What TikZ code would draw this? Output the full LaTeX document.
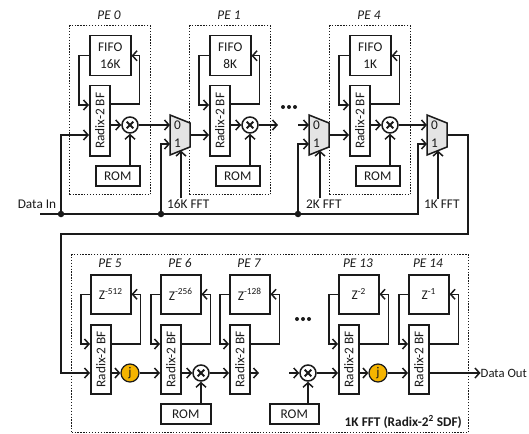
\documentclass[tikz,border=0pt]{standalone}
\usepackage{fontspec}
\setmainfont{Carlito}
\usetikzlibrary{arrows.meta,calc}
\definecolor{jorange}{HTML}{F5B400}
\definecolor{muxgray}{HTML}{E4E4E4}
\definecolor{ink}{HTML}{1A1A1A}

\tikzset{
  every node/.style={font=\fontsize{13.3}{16.5}\selectfont, inner sep=1pt, text=ink},
  blk/.style={draw=ink, line width=1.5pt, inner sep=0pt, anchor=north west},
  pebox/.style={draw=ink, line width=1.2pt, dash pattern=on 1.3pt off 1.6pt, anchor=north west, inner sep=0pt},
  pelab/.style={font=\fontsize{13.3}{16}\selectfont\itshape},
  mulc/.style={draw=ink, circle, line width=1.5pt, fill=white, minimum size=16pt, inner sep=0pt,
    path picture={\draw[line width=1.9pt, ink]
      ([shift={(-3.3pt,-3.3pt)}]path picture bounding box.center) -- ([shift={(3.3pt,3.3pt)}]path picture bounding box.center)
      ([shift={(-3.3pt,3.3pt)}]path picture bounding box.center) -- ([shift={(3.3pt,-3.3pt)}]path picture bounding box.center);}},
  jc/.style={draw=ink, circle, line width=1.2pt, fill=jorange, minimum size=18pt, inner sep=0pt},
  wire/.style={draw=ink, line width=1.5pt},
  arr/.style={wire, -{Straight Barb[length=4.5pt,width=10pt]}},
  dotc/.style={circle, fill=ink, inner sep=0pt, minimum size=6.5pt},
  muxshape/.style={draw=ink, line width=1.5pt, fill=muxgray},
}

\newcommand\upperPE[4]{%
  \node[pebox,minimum width=81pt,minimum height=169pt] (#1box) at (#2-20,25) {};
  \node[pelab] (#1lab) at (#2+20,15) {#4};
  \node[blk,minimum width=41pt,minimum height=40pt,align=center] (#1fifo) at (#2,35) {FIFO\\#3};
  \node[blk,minimum width=20pt,minimum height=70pt,label={[rotate=90]center:Radix-2 BF}] (#1bf) at (#2,85) {};
  \node[mulc] (#1mul) at (#2+41,125) {};
  \node[blk,minimum width=44pt,minimum height=20pt] (#1rom) at (#2+6,165) {ROM};
  \coordinate (#1in) at ([yshift=-50pt]#1bf.north west);
  \draw[arr] (#1fifo.west) -- ++(-10,0) |- ([yshift=-20pt]#1bf.north west);
  \draw[arr] ([yshift=-19pt]#1bf.north east) -- ++(29,0) |- (#1fifo.east);
  \draw[arr] (#1bf.east |- #1mul) -- (#1mul.west);
  \draw[arr] (#1mul |- #1rom.north) -- (#1mul.south);
}

\newcommand\muxat[3]{%
  \draw[muxshape] (#2,115) -- (#2+20,123) -- (#2+20,147) -- (#2,155) -- cycle;
  \coordinate (#1in0) at (#2,125);
  \coordinate (#1in1) at (#2,144);
  \coordinate (#1out) at (#2+20,135);
  \coordinate (#1sel) at (#2+11,150.6);
  \node (#1zero) at (#2+7.5,125) {0};
  \node (#1one) at (#2+7.5,143) {1};
  \node[anchor=west] (#1lab) at (#2-4,204) {#3};
  \draw[arr] (#1lab.north -| #1sel) -- (#1sel);
}

\newcommand\lowerPE[4]{%
  \node[pelab] (#1lab) at (#2+20,263) {#4};
  \node[blk,minimum width=40pt,minimum height=39pt] (#1z) at (#2,274) {Z\textsuperscript{#3}};
  \node[blk,minimum width=20pt,minimum height=69pt,label={[rotate=90]center:Radix-2 BF}] (#1bf) at (#2,324) {};
  \coordinate (#1in) at ([yshift=-49pt]#1bf.north west);
  \coordinate (#1out) at ([yshift=-49pt]#1bf.north east);
  \draw[arr] (#1z.west) -- ++(-9,0) |- ([yshift=-20pt]#1bf.north west);
  \draw[arr] ([yshift=-20pt]#1bf.north east) -- ++(29,0) |- (#1z.east);
}

\begin{document}
\begin{tikzpicture}[x=1pt,y=-1pt]
\useasboundingbox (0,0) rectangle (529,433);

% ---------- upper row ----------
\upperPE{pa}{89}{16K}{PE 0}
\upperPE{pb}{209}{8K}{PE 1}
\upperPE{pc}{349}{1K}{PE 4}
\muxat{ma}{170}{16K FFT}
\muxat{mb}{309}{2K FFT}
\muxat{mc}{427}{1K FFT}

\draw[arr] (pamul.east) -- (main0);
\draw[arr] (maout) -- (pbin);
\coordinate (dangA) at (278,125);
\draw[arr] (pbmul.east) -- (dangA);
\coordinate (dangB) at (298,125);
\draw[arr] (dangB) -- (mbin0);
\draw[arr] (mbout) -- (pcin);
\draw[arr] (pcmul.east) -- (mcin0);
\fill[ink] (283,107) circle (2) (289,107) circle (2) (295,107) circle (2);

% ---------- input bus ----------
\node (datain) at (37,204) {Data In};
\coordinate (busL) at (40,214);
\coordinate (busR) at (418,214);
\draw[arr] (busL) -- (busR) |- (mcin1);
\node[dotc] (da) at (61,214) {};
\node[dotc] (db) at (161,214) {};
\node[dotc] (dc) at (298,214) {};
\draw[arr] (da) |- (pain);
\draw[arr] (db) |- (main1);
\draw[arr] (dc) |- (mbin1);

% ---------- lower row ----------
\node[pebox,minimum width=397pt,minimum height=178pt] (fftbox) at (71,254) {};
\node[font=\fontsize{13.3}{16}\selectfont\bfseries, anchor=east] (fftlab) at (463,422) {1K FFT (Radix-2\textsuperscript{2} SDF)};

\lowerPE{qa}{90}{-512}{PE 5}
\lowerPE{qb}{160}{-256}{PE 6}
\lowerPE{qc}{229}{-128}{PE 7}
\lowerPE{qd}{338}{-2}{PE 13}
\lowerPE{qe}{408}{-1}{PE 14}

\coordinate (turnR) at (468,234);
\coordinate (turnL) at (61,234);
\draw[arr] (mcout) -| (turnR) -- (turnL) |- (qain);

\node[jc] (ja) at (130,373) {j};
\draw[arr] (qaout) -- (ja.west);
\draw[arr] (ja.east) -- (qbin);

\node[mulc] (mq) at (201,373) {};
\node[blk,minimum width=50pt,minimum height=20pt] (romq) at (160,403) {ROM};
\draw[arr] (qbout) -- (mq.west);
\draw[arr] (mq.east) -- (qcin);
\draw[arr] (mq |- romq.north) -- (mq.south);

\coordinate (dangC) at (259,373);
\draw[arr] (qcout) -- (dangC);
\fill[ink] (297,319) circle (2) (303,319) circle (2) (309,319) circle (2);

\coordinate (dangD) at (289,373);
\node[mulc] (mr) at (308,373) {};
\node[blk,minimum width=49pt,minimum height=20pt] (romr) at (269,403) {ROM};
\draw[arr] (dangD) -- (mr.west);
\draw[arr] (mr.east) -- (qdin);
\draw[arr] (mr |- romr.north) -- (mr.south);

\node[jc] (jb) at (378,373) {j};
\draw[arr] (qdout) -- (jb.west);
\draw[arr] (jb.east) -- (qein);

\node[anchor=west, inner sep=0pt, font=\fontsize{12.7}{15}\selectfont] (dout) at (480.5,373) {Data Out};
\draw[arr] (qeout) -- (dout.west);
\end{tikzpicture}
\end{document}
